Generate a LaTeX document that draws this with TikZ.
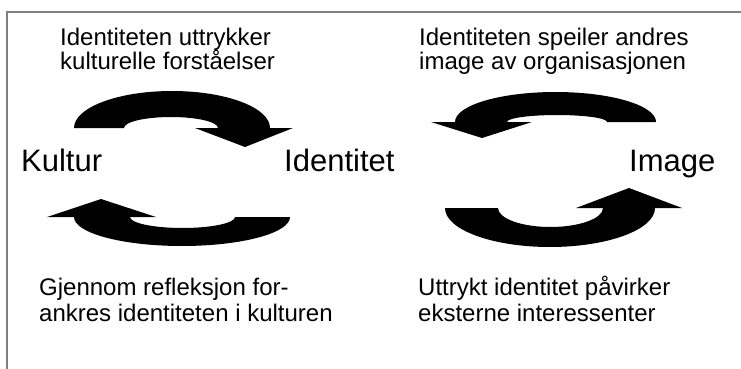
\documentclass[tikz,border=0pt]{standalone}
\usepackage{fontspec}
\setmainfont{Liberation Sans}
\definecolor{framegray}{RGB}{128,128,128}
\begin{document}
\begin{tikzpicture}[x=1pt,y=-1pt,
  txt/.style={anchor=base west,inner sep=0pt,font=\fontsize{24}{28}\selectfont},
  lbl/.style={anchor=base west,inner sep=0pt,font=\fontsize{31}{36}\selectfont},
  fatarrow/.style={fill=black,draw=none}]
\useasboundingbox (0,0) rectangle (741,369);
% frame
\draw[framegray,line width=1.5pt] (7,369) -- (7,12) -- (741,12);
% labels
\node[lbl] (kultur) at (21,171) {Kultur};
\node[lbl] (identitet) at (284,171) {Identitet};
\node[lbl] (image) at (629,171) {Image};
% texts
\node[txt] (tl1) at (60,46) {Identiteten uttrykker};
\node[txt] (tl2) at (60,70) {kulturelle forståelser};
\node[txt] (tr1) at (419,46) {Identiteten speiler andres};
\node[txt] (tr2) at (419,70) {image av organisasjonen};
\node[txt] (bl1) at (39,295) {Gjennom refleksjon for-};
\node[txt] (bl2) at (39,321) {ankres identiteten i kulturen};
\node[txt] (br1) at (418,295) {Uttrykt identitet påvirker};
\node[txt] (br2) at (418,321) {eksterne interessenter};
% arrow 1: Kultur -> Identitet (top left)
\fill[fatarrow] (74,128) arc[start angle=180,end angle=360,x radius=98,y radius=37]
  -- (293,128) -- (245,147) -- (195,128) -- (218,128)
  arc[start angle=0,end angle=-180,x radius=47,y radius=11] -- cycle;
% arrow 2: Image -> Identitet (top right)
\fill[fatarrow] (656,122) arc[start angle=0,end angle=-180,x radius=100.5,y radius=30]
  -- (431,122) -- (482,138) -- (532,122) -- (507,122)
  arc[start angle=180,end angle=360,x radius=50,y radius=7] -- cycle;
% arrow 3: Identitet -> Kultur (bottom left)
\fill[fatarrow] (290,217) arc[start angle=0,end angle=180,x radius=108,y radius=29]
  -- (47,217) -- (101,199) -- (156,217) -- (130,217)
  arc[start angle=180,end angle=0,x radius=52.5,y radius=11] -- cycle;
% arrow 4: Identitet -> Image (bottom right)
\fill[fatarrow] (445,208) arc[start angle=180,end angle=0,x radius=105,y radius=39]
  -- (682,208) -- (629,188) -- (576,208) -- (603,208)
  arc[start angle=0,end angle=180,x radius=52.5,y radius=19] -- cycle;
\end{tikzpicture}
\end{document}
